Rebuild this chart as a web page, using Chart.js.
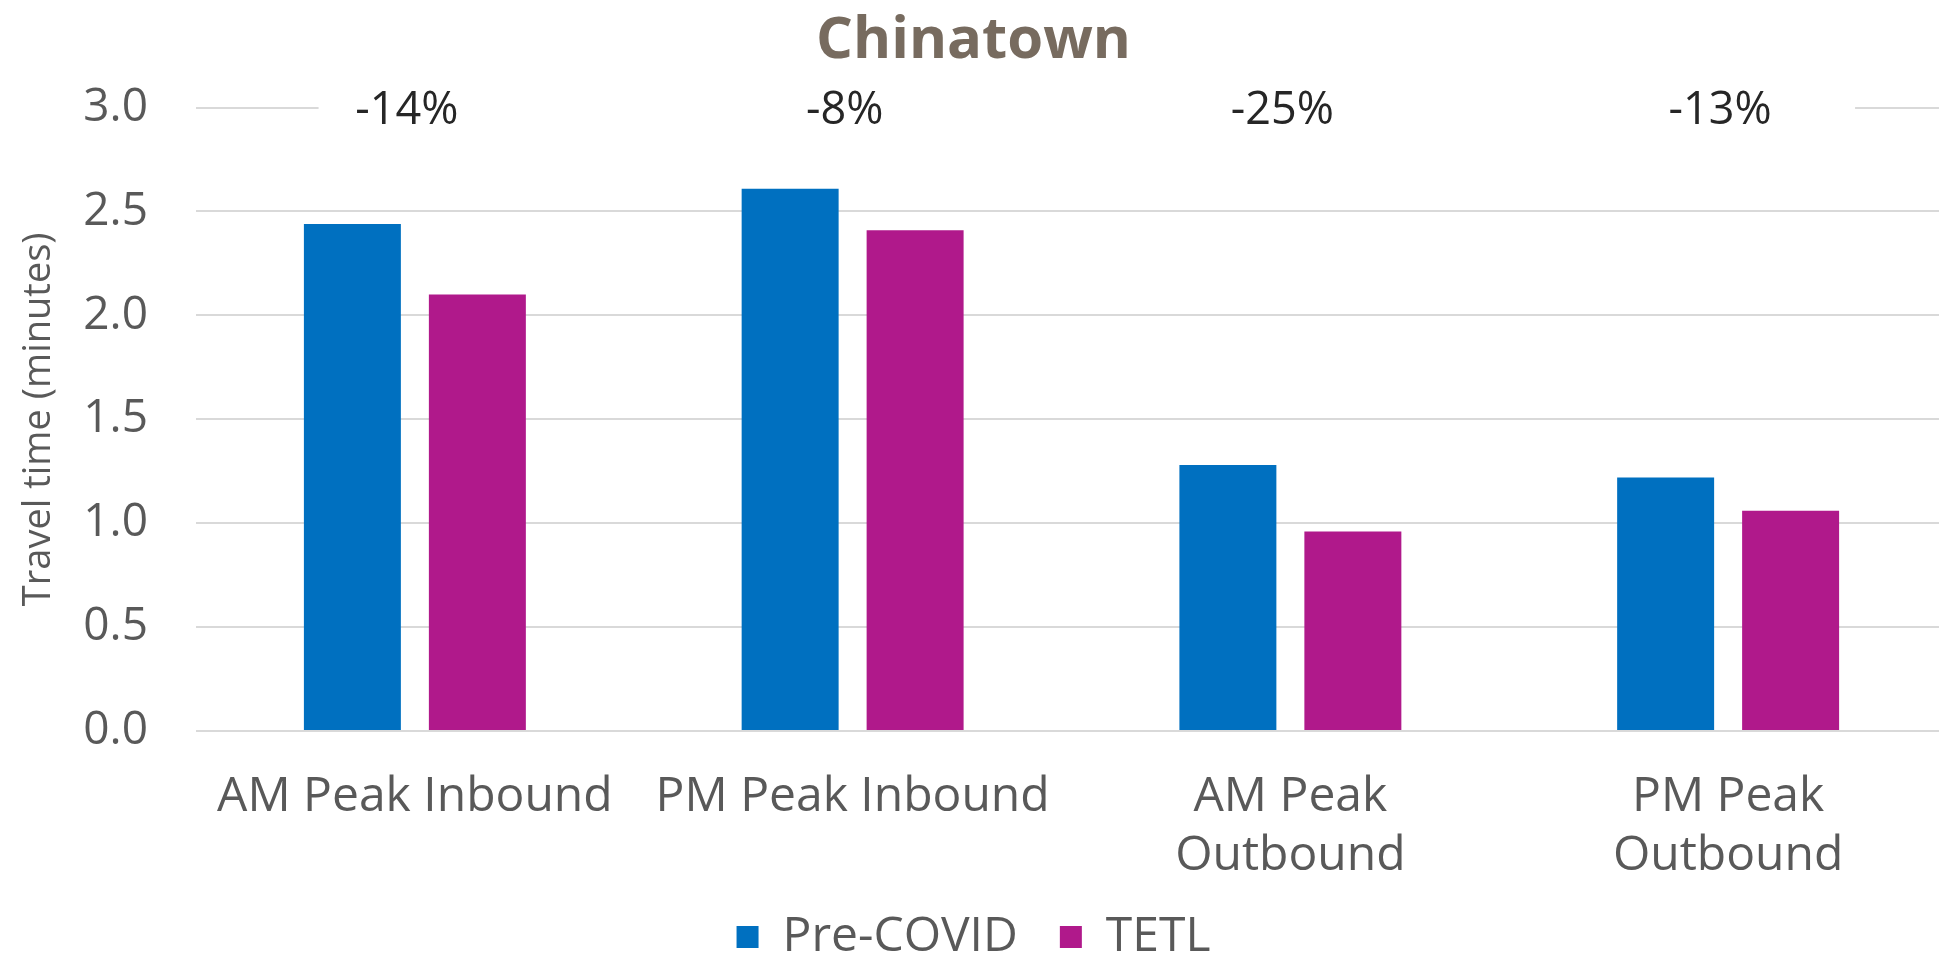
<!DOCTYPE html>
<html>
<head>
<meta charset="utf-8">
<script src="https://cdn.jsdelivr.net/npm/chart.js@4.4.1/dist/chart.umd.min.js"></script>
<style>
  html, body { margin: 0; padding: 0; background: #fff; overflow: hidden; }
  #wrap { position: absolute; left: 0; top: 0; width: 1947px; height: 971px; }
</style>
</head>
<body>
<div id="wrap"><canvas id="chart"></canvas></div>
<script>
// Chinatown travel time, Pre-COVID vs TETL
const categories = [["AM Peak Inbound"], ["PM Peak Inbound"], ["AM Peak", "Outbound"], ["PM Peak", "Outbound"]];
const preCovid = [2.44, 2.61, 1.28, 1.22];
const tetl = [2.10, 2.41, 0.96, 1.06];
const changeLabels = ["-14%", "-8%", "-25%", "-13%"];
const yTicks = [0, 0.5, 1.0, 1.5, 2.0, 2.5, 3.0];

const FONT = "'Open Sans', 'Noto Sans', sans-serif";
const GREY = "#595959";

// percentage labels sitting on the 3.0 line, with the line masked behind them
const changePlugin = {
  id: "changeLabels",
  beforeDatasetsDraw(chart){
    const { ctx } = chart;
    const x = chart.scales.x, y = chart.scales.y;
    const w = x.getPixelForValue(1) - x.getPixelForValue(0);
    const yTop = y.getPixelForValue(3.0);
    ctx.save();
    ctx.fillStyle = "#fff";
    const x0 = x.getPixelForValue(0) - 0.22 * w;
    const x1 = x.getPixelForValue(categories.length - 1) + 0.29 * w;
    ctx.fillRect(x0, yTop - 4, x1 - x0, 8);
    ctx.restore();
  },
  afterDatasetsDraw(chart){
    const { ctx } = chart;
    const x = chart.scales.x, y = chart.scales.y;
    const yTop = y.getPixelForValue(3.0);
    ctx.save();
    ctx.font = "45px " + FONT;
    ctx.fillStyle = "#262626";
    ctx.textAlign = "center";
    ctx.textBaseline = "middle";
    changeLabels.forEach((t, i) => {
      ctx.fillText(t, x.getPixelForValue(i) - 8, yTop + 4);
    });
    ctx.restore();
  }
};

const ctx = document.getElementById("chart");
new Chart(ctx, {
  type: "bar",
  data: {
    labels: categories,
    datasets: [
      { label: "Pre-COVID", data: preCovid, backgroundColor: "#0070c0" },
      { label: "TETL", data: tetl, backgroundColor: "#b0198b" }
    ]
  },
  options: {
    responsive: true,
    maintainAspectRatio: false,
    devicePixelRatio: 1,
    animation: false,
    categoryPercentage: 0.571,
    barPercentage: 0.776,
    layout: { padding: { left: 0, right: 0, top: 0, bottom: 0 } },
    plugins: {
      title: {
        display: true,
        text: "Chinatown",
        color: "#776b5f",
        font: { family: FONT, size: 58, weight: "bold", lineHeight: 1.2 },
        padding: { top: 7, bottom: 31 }
      },
      legend: {
        position: "bottom",
        labels: {
          color: GREY,
          font: { family: FONT, size: 48 },
          boxWidth: 22,
          boxHeight: 22,
          padding: 42
        }
      },
      tooltip: { enabled: false }
    },
    scales: {
      x: {
        grid: { display: false },
        border: { display: false },
        ticks: {
          color: GREY,
          font: { family: FONT, size: 48, lineHeight: 1.22 },
          padding: 29,
          maxRotation: 0,
          autoSkip: false
        },
        afterFit(scale){ scale.height = 140; }
      },
      y: {
        min: 0,
        max: 3,
        afterBuildTicks(scale){ scale.ticks = yTicks.map(v => ({ value: v })); },
        grid: { color: "#d9d9d9", lineWidth: 2, drawTicks: false },
        border: { display: false },
        ticks: {
          color: GREY,
          font: { family: FONT, size: 46 },
          padding: 48,
          callback: v => Number(v).toFixed(1)
        },
        title: {
          display: true,
          text: "Travel time (minutes)",
          color: GREY,
          font: { family: FONT, size: 38 },
          padding: { top: 16, bottom: 0 }
        },
        afterFit(scale){ scale.width = 196; }
      }
    }
  },
  plugins: [changePlugin]
});
</script>
</body>
</html>
